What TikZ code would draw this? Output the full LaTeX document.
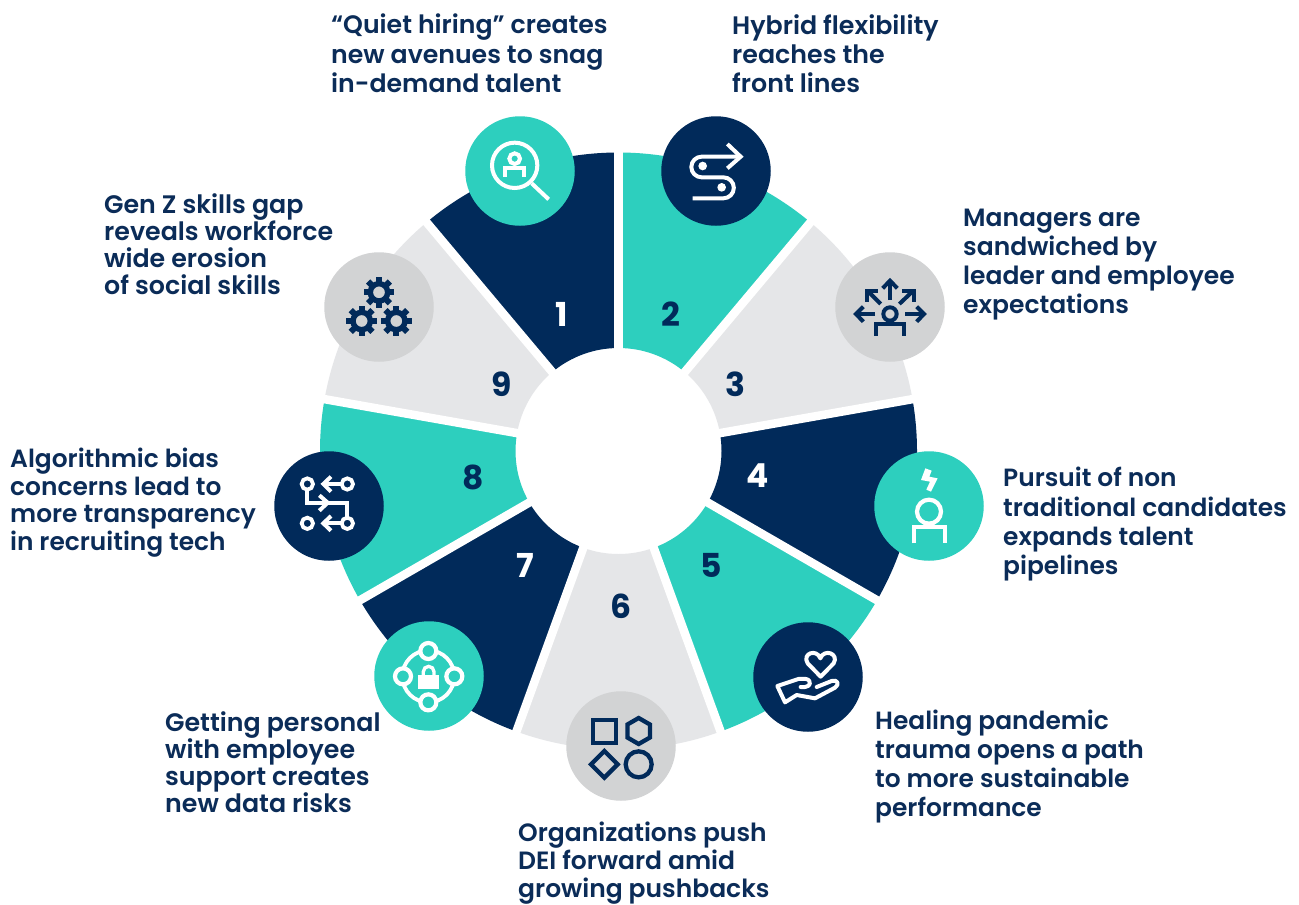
\documentclass[tikz,border=0pt]{standalone}
\usepackage{fontspec}
\setmainfont{Poppins}[UprightFont={* SemiBold},BoldFont={* Bold}]
\definecolor{navy}{HTML}{012A5A}
\definecolor{teal1}{HTML}{2DCFBE}
\definecolor{lgray}{HTML}{E5E6E8}
\definecolor{mgray}{HTML}{D2D3D4}
\definecolor{txt}{HTML}{0B2C58}
\tikzset{
  iconcircle/.style={circle,minimum size=109.5pt,inner sep=0pt,draw=none},
  num/.style={font=\fontsize{33}{33}\selectfont\bfseries,text=navy,inner sep=0pt},
  numw/.style={num,text=white},
  lab/.style={anchor=north west,inner sep=0pt,align=left,text=txt},
  gapline/.style={white,line width=8.5pt},
  icw/.style={white,line width=4pt,line join=miter,fill=none},
  icn/.style={navy,line width=4pt,line join=miter,fill=none}
}
\newcommand{\segm}[3]{\fill[#3] (#1:298.5) arc (#1:#2:298.5) -- (#2:103) arc (#2:#1:103) -- cycle;}
\newcommand{\lset}[2]{\fontsize{#1}{#2}\selectfont}
\newcommand{\gearicon}[2]{\begin{scope}[shift={(#1,#2)}]
  \draw[navy,line width=5.4pt] (0,0) circle (26);
  \foreach \a in {0,45,...,315} \draw[navy,line width=6pt] (\a:28) -- (\a:46);
\end{scope}}
\begin{document}
\begin{tikzpicture}[x=1pt,y=-1pt]
\useasboundingbox (0,0) rectangle (1299,905);
\fill[white] (0,0) rectangle (1299,905);
\begin{scope}[shift={(618.5,451)},yscale=-1]
\segm{90}{130}{navy}
\segm{50}{90}{teal1}
\segm{10}{50}{lgray}
\segm{-30}{10}{navy}
\segm{-70}{-30}{teal1}
\segm{-110}{-70}{lgray}
\segm{-150}{-110}{navy}
\segm{170}{210}{teal1}
\segm{130}{170}{lgray}
\foreach \a in {90,50,10,-30,-70,-110,-150,170,130} \draw[gapline] (\a:95) -- (\a:305);
\end{scope}
% circles
\node[iconcircle,fill=teal1] (c1) at (520,171) {};
\node[iconcircle,fill=navy] (c2) at (716,171) {};
\node[iconcircle,fill=mgray] (c3) at (890,307) {};
\node[iconcircle,fill=teal1] (c4) at (929,506) {};
\node[iconcircle,fill=navy] (c5) at (808,677) {};
\node[iconcircle,fill=mgray] (c6) at (621,746) {};
\node[iconcircle,fill=teal1] (c7) at (429,676) {};
\node[iconcircle,fill=navy] (c8) at (329,506) {};
\node[iconcircle,fill=mgray] (c9) at (379,307) {};
% numbers
\node[numw] (n1) at (562,314) {1};
\node[num] (n2) at (671,314) {2};
\node[num] (n3) at (735,384) {3};
\node[numw] (n4) at (758,476) {4};
\node[num] (n5) at (711,565) {5};
\node[num] (n6) at (621,606) {6};
\node[numw] (n7) at (525,565) {7};
\node[num] (n8) at (473,477) {8};
\node[num] (n9) at (502,384) {9};
% labels
\node[lab,font=\lset{25.2}{29.4}] (t1) at (331,14) {“Quiet hiring” creates\\new avenues to snag\\in-demand talent};
\node[lab,font=\lset{25.3}{29.4}] (t2) at (732,14) {Hybrid flexibility\\reaches the\\front lines};
\node[lab,font=\lset{25}{29.1}] (t3) at (963,209) {Managers are\\sandwiched by\\leader and employee\\expectations};
\node[lab,font=\lset{24.9}{29.3}] (t4) at (1003,467) {Pursuit of non\\traditional candidates\\expands talent\\pipelines};
\node[lab,font=\lset{24.9}{29}] (t5) at (875,710) {Healing pandemic\\trauma opens a path\\to more sustainable\\performance};
\node[lab,font=\lset{25}{28}] (t6) at (518,822) {Organizations push\\DEI forward amid\\growing pushbacks};
\node[lab,font=\lset{25.3}{27.3}] (t7) at (165,711) {Getting personal\\with employee\\support creates\\new data risks};
\node[lab,font=\lset{24.9}{27.6}] (t8) at (10,448) {Algorithmic bias\\concerns lead to\\more transparency\\in recruiting tech};
\node[lab,font=\lset{25.3}{27}] (t9) at (104,193) {Gen Z skills gap\\reveals workforce\\wide erosion\\of social skills};
% icon 1
\begin{scope}[shift={(440,100)},scale=1/3]
\draw[icw] (224,196) circle (68);
\draw[icw] (275,250) -- (326,298);
\draw[icw] (224,176) circle (16);
\draw[icw] (196,230) -- (196,205) -- (252,205) -- (252,230);
\end{scope}
% icon 2
\begin{scope}[shift={(440,100)},scale=1/3]
\draw[icw] (900,170) -- (785,170) arc (270:90:31) -- (850,232) arc (-90:90:31.5) -- (758,295);
\draw[icw] (862,132) -- (902,170) -- (862,205);
\fill[white] (788,198) circle (13);
\fill[white] (845,262) circle (13);
\end{scope}
% icon 3
\begin{scope}[shift={(820,240)},scale=1/3]
\draw[icn] (210,222) circle (20);
\draw[icn] (168,287) -- (168,252) -- (252,252) -- (252,287);
\draw[icn] (210,180) -- (210,122);
\draw[icn] (188,145) -- (210,122) -- (232,145);
\draw[icn] (182,192) -- (142,152);
\draw[icn] (140,185) -- (140,152) -- (175,152);
\draw[icn] (238,192) -- (280,152);
\draw[icn] (247,152) -- (283,152) -- (283,185);
\draw[icn] (165,222) -- (108,222);
\draw[icn] (130,200) -- (108,222) -- (130,245);
\draw[icn] (255,222) -- (312,222);
\draw[icn] (290,200) -- (312,222) -- (290,245);
\end{scope}
% icon 4
\begin{scope}[shift={(860,440)},scale=1/3]
\fill[white] (196,85) -- (215,92) -- (208,110) -- (233,115) -- (213,155) -- (199,149) -- (210,125) -- (183,120) -- cycle;
\draw[white,line width=4.2pt] (207,215) circle (36);
\draw[white,line width=4.2pt] (161,310) -- (161,260) -- (255,260) -- (255,310);
\end{scope}
% icon 5
\begin{scope}[shift={(740,615)},scale=1/3]
\draw[icw,line join=round] (242,185) -- (203,145) .. controls (185,115) and (230,100) .. (241,130) .. controls (252,100) and (298,115) .. (281,145) -- cycle;
\draw[icw,line join=round,line cap=round] (182,216) .. controls (200,218) and (215,212) .. (208,198) .. controls (205,192) and (195,190) .. (175,192) -- (112,213) -- (135,262) -- (170,240) -- (225,250) -- (285,218) .. controls (300,208) and (292,192) .. (275,198) -- (230,216);
\end{scope}
% icon 6
\begin{scope}[shift={(550,680)},scale=1/3]
\draw[navy,line width=4.3pt] (128,119) rectangle (197,189);
\draw[navy,line width=4.3pt] (266,114) -- ++(33.8,19.5) -- ++(0,39) -- ++(-33.8,19.5) -- ++(-33.8,-19.5) -- ++(0,-39) -- cycle;
\draw[navy,line width=4.3pt] (163,213) -- (203,253) -- (163,293) -- (123,253) -- cycle;
\draw[navy,line width=4.3pt] (266,253) circle (39);
\end{scope}
% icon 7
\begin{scope}[shift={(360,615)},scale=1/3]
\draw[white,line width=3.8pt] (205,184) circle (78);
\foreach \p in {(205,108),(283,184),(205,262),(129,184)} \draw[white,fill=teal1,line width=4.2pt] \p circle (24);
\fill[white] (175,180) rectangle (237,222);
\draw[white,line width=3.3pt] (190,182) -- (190,170) arc (180:360:16) -- (222,182);
\end{scope}
% icon 8
\begin{scope}[shift={(260,440)},scale=1/3]
\foreach \p in {(142,132),(262,132),(142,250),(262,250)} \draw[white,line width=3.8pt] \p circle (17);
\draw[icw] (245,132) -- (192,132);
\draw[icw] (213,110) -- (190,132) -- (213,155);
\draw[icw] (245,250) -- (192,250);
\draw[icw] (213,228) -- (190,250) -- (213,272);
\draw[icw] (142,150) -- (142,188) -- (262,188) -- (262,233);
\draw[icw] (178,166) -- (203,188) -- (178,212);
\end{scope}
% icon 9
\begin{scope}[shift={(310,240)},scale=1/3]
\gearicon{207}{157}
\gearicon{155}{243}
\gearicon{259}{243}
\end{scope}
\end{tikzpicture}
\end{document}
